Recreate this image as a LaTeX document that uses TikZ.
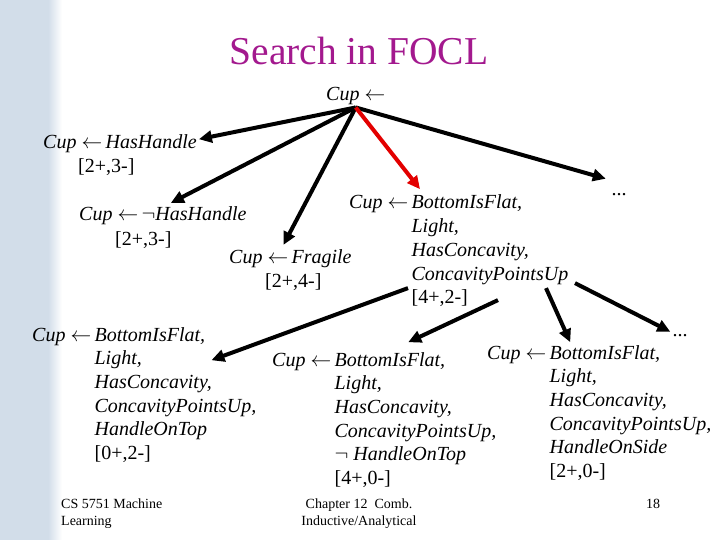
\documentclass[tikz,border=0pt]{standalone}
\usepackage{fontspec}
\setmainfont{Liberation Serif}
\usetikzlibrary{arrows.meta,positioning}
\definecolor{Tc}{HTML}{A3198E}
\definecolor{Pc}{HTML}{E30000}
\definecolor{Sc}{HTML}{D2DDE9}
\tikzset{
  rule/.style={anchor=base west, inner sep=2pt, font=\fontsize{20}{23.7}\selectfont\itshape},
  cnt/.style={anchor=base west, inner sep=2pt, font=\fontsize{20}{23.7}\selectfont},
  foot/.style={anchor=base west, inner sep=0pt, font=\fontsize{14}{17}\selectfont},
  link/.style={-{Triangle[length=13pt,width=12pt]}, line width=4pt},
  pick/.style={link, draw=Pc},
}
\newcommand{\cuprule}[1]{Cup~$\leftarrow$\,#1}
\newcommand{\cupbody}[1]{Cup~$\leftarrow$\,\begin{tabular}[t]{@{}l@{}}#1\end{tabular}}

\begin{document}
\begin{tikzpicture}[x=1pt,y=-1pt]
  \useasboundingbox (0,0) rectangle (720,540);
  \fill[Sc] (0,0) rectangle (48,540);
  \shade[left color=Sc, right color=white] (48,0) rectangle (62,540);
  \node[font=\fontsize{39.5}{40}\selectfont, text=Tc, anchor=base] (title) at (359,65) {Search in FOCL};
  \node[rule] (root) at (324,101) {Cup~$\leftarrow$};
  % first step
  \node[rule] (hh) at (41,149) {\cuprule{HasHandle}};
  \node[cnt] (hhc) at (76,173) {[2+,3-]};
  \node[rule] (nh) at (77,221) {\cuprule{$\neg$HasHandle}};
  \node[cnt] (nhc) at (113,245) {[2+,3-]};
  \node[rule] (fr) at (227,263) {\cuprule{Fragile}};
  \node[cnt] (frc) at (263,287) {[2+,4-]};
  \node[rule] (bf) at (347,209) {\cupbody{BottomIsFlat,\\Light,\\HasConcavity,\\ConcavityPointsUp\\\upshape[4+,2-]}};
  \node[cnt, anchor=base] (d1) at (619,196) {...};
  % second step
  \node[rule] (bl) at (30,341) {\cupbody{BottomIsFlat,\\Light,\\HasConcavity,\\ConcavityPointsUp,\\HandleOnTop\\\upshape[0+,2-]}};
  \node[rule] (bm) at (270,366) {\cupbody{BottomIsFlat,\\Light,\\HasConcavity,\\ConcavityPointsUp,\\$\neg$\ HandleOnTop\\\upshape[4+,0-]}};
  \node[rule] (br) at (485,359) {\cupbody{BottomIsFlat,\\Light,\\HasConcavity,\\ConcavityPointsUp,\\HandleOnSide\\\upshape[2+,0-]}};
  \node[cnt, anchor=base] (d2) at (680,336) {...};
  \draw[link] (root.south) -- ([yshift=5pt]hh.east);
  \draw[link] (root.south) -- ([shift={(8pt,2pt)}]nh.north);
  \draw[link] (root.south) -- ([shift={(-7pt,2pt)}]fr.north);
  \draw[link] (root.south) -- ([shift={(-3.5pt,13pt)}]d1.north west);
  \draw[pick] (root.south) -- ([shift={(73pt,1pt)}]bf.north west);
  \draw[link] ([shift={(61pt,25pt)}]bf.south west) -- ([shift={(-47pt,-38pt)}]bl.north east);
  \draw[link] ([shift={(151pt,13pt)}]bf.south west) -- ([shift={(24pt,5pt)}]bm.north);
  \draw[link] ([shift={(199pt,25pt)}]bf.south west) -- ([shift={(-29pt,-2pt)}]br.north);
  \draw[link] ([shift={(228pt,30pt)}]bf.south west) -- (d2.north west);
  % footer
  \node[foot] (cs) at (61,508) {\begin{tabular}[t]{@{}l@{}}CS 5751 Machine\\Learning\end{tabular}};
  \node[foot, anchor=base] (ch) at (359,508) {\begin{tabular}[t]{@{}c@{}}Chapter 12\ \ Comb.\\Inductive/Analytical\end{tabular}};
  \node[foot] (pg) at (646,508) {18};
\end{tikzpicture}
\end{document}
